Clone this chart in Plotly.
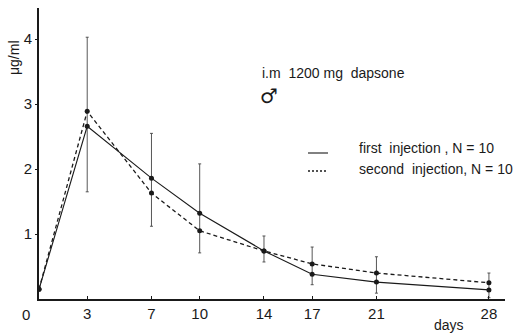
import plotly.graph_objects as go

days = [0, 3, 7, 10, 14, 17, 21, 28]
first_injection = [0.15, 2.66, 1.86, 1.32, 0.74, 0.38, 0.26, 0.14]
second_injection = [0.15, 2.89, 1.63, 1.05, 0.74, 0.54, 0.40, 0.25]
err_days = [3, 7, 10, 14, 17, 21, 28]
err_upper = [4.03, 2.55, 2.08, 0.97, 0.80, 0.65, 0.40]
err_lower = [1.65, 1.12, 0.71, 0.57, 0.22, 0.09, 0.02]
x_ticks = [3, 7, 10, 14, 17, 21, 28]
y_ticks = [1, 2, 3, 4]

FONT = "Liberation Sans, Arial, sans-serif"
INK = "#1a1a1a"

fig = go.Figure()

mid = [(u + l) / 2 for u, l in zip(err_upper, err_lower)]
half = [(u - l) / 2 for u, l in zip(err_upper, err_lower)]
fig.add_trace(go.Scatter(
    x=err_days, y=mid, mode="markers",
    marker=dict(size=1, opacity=0),
    error_y=dict(type="data", array=half, visible=True, color="#444", thickness=0.9, width=1.5),
    showlegend=False, hoverinfo="skip"))

fig.add_trace(go.Scatter(
    x=days, y=first_injection, mode="lines+markers",
    line=dict(color=INK, width=1.1),
    marker=dict(size=5, color=INK),
    name="first injection , N = 10", showlegend=False))

fig.add_trace(go.Scatter(
    x=days, y=second_injection, mode="lines+markers",
    line=dict(color=INK, width=1.3, dash="4px,3px"),
    marker=dict(size=5, color=INK),
    name="second injection, N = 10", showlegend=False))

fig.update_layout(
    width=524, height=333,
    margin=dict(l=39, r=19, t=8, b=34),
    paper_bgcolor="white", plot_bgcolor="white",
    font=dict(family=FONT, size=14, color=INK),
    xaxis=dict(range=[0, 29], tickvals=x_ticks, ticks="inside", ticklen=3,
               tickcolor=INK, showline=True, linecolor=INK, linewidth=1.8,
               showgrid=False, zeroline=False, tickfont=dict(size=15)),
    yaxis=dict(range=[0, 4.48], tickvals=y_ticks, ticks="outside", ticklen=2,
               tickcolor=INK, showline=True, linecolor=INK, linewidth=1.8,
               showgrid=False, zeroline=False, tickfont=dict(size=15)),
)

# legend samples
fig.add_shape(type="line", xref="paper", yref="paper",
              x0=(308 - 39) / 466, x1=(328 - 39) / 466,
              y0=(299 - 153) / 291, y1=(299 - 153) / 291,
              line=dict(color=INK, width=1.1))
fig.add_shape(type="line", xref="paper", yref="paper",
              x0=(308 - 39) / 466, x1=(328 - 39) / 466,
              y0=(299 - 171) / 291, y1=(299 - 171) / 291,
              line=dict(color=INK, width=1.3, dash="2px,2px"))

def ann(text, px, py, size=14, xanchor="left", angle=0, family=FONT):
    fig.add_annotation(text=text, xref="paper", yref="paper",
                       x=(px - 39) / 466, y=(299 - py) / 291,
                       xanchor=xanchor, yanchor="middle", showarrow=False,
                       textangle=angle, borderpad=0,
                       font=dict(size=size, family=family, color=INK))

ann("first  injection , N = 10", 358, 148)
ann("second  injection, N = 10", 358, 169)
ann("i.m  1200 mg  dapsone", 261, 73)
ann("♂", 259, 95, size=20, family="Noto Sans, DejaVu Sans")
ann("days", 433, 325)
ann("0", 26, 314, size=15, xanchor="center")
ann("μg/ml", 14, 58, size=14, xanchor="center", angle=-90)

fig.write_html("out.html", config={"displayModeBar": False},
               post_script="document.body.style.margin='0';document.body.style.padding='0';")
